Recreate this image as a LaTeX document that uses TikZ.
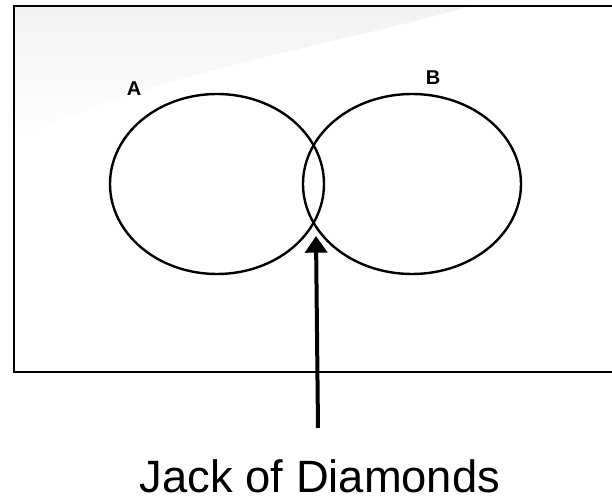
\documentclass[tikz,border=0pt]{standalone}
\usepackage{fontspec}
\setmainfont{Liberation Sans}
\usetikzlibrary{arrows.meta,positioning}
\definecolor{fundo}{RGB}{242,242,242}

\begin{document}
\begin{tikzpicture}[x=0.75pt,y=-0.75pt,
        caixa/.style={draw=black,line width=2.2pt},
        conj/.style={draw=black,line width=1.8pt},
        rot/.style={font=\bfseries\fontsize{15}{17}\selectfont},
        seta/.style={draw=black,line width=3pt,
                     -{Triangle[width=16.5pt,length=12.5pt]}}]

        \useasboundingbox (0,0) rectangle (612,502);

        % fundo do slide
        \shade[top color=fundo,bottom color=white]
          (14,6) -- (470,6) .. controls (360,40) and (160,70) .. (14,140) -- cycle;

        % universo
        \draw[caixa] (614,6) -- (14,6) -- (14,372) -- (614,372);

        % conjuntos
        \draw[conj] (217,184) ellipse [x radius=107, y radius=90];
        \draw[conj] (412,184) ellipse [x radius=109, y radius=90];
        \node[rot] (lA) at (134,89) {A};
        \node[rot] (lB) at (433,78) {B};

        % intersecao
        \coordinate (cruz) at (316,236);
        \coordinate (base) at (318,428);
        \draw[seta] (base) -- (cruz);
        \node[font=\fontsize{34}{39}\selectfont] (jack) at (320,476) {Jack of Diamonds};
      \end{tikzpicture}
\end{document}
